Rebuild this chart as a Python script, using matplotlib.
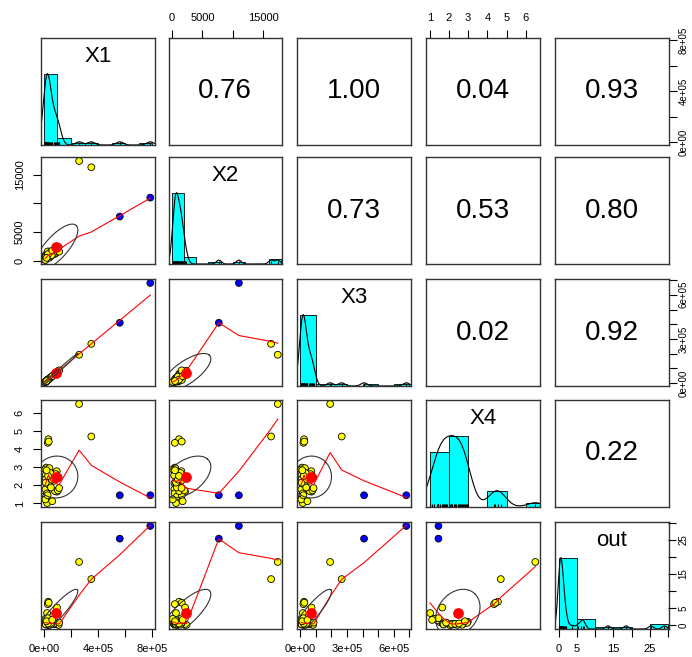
import numpy as np
import matplotlib
matplotlib.use("Agg")
import matplotlib.pyplot as plt

plt.rcParams['font.family'] = ['Liberation Sans', 'DejaVu Sans']

names = ["X1", "X2", "X3", "X4", "out"]

# 33 ordinary rows, then two large yellow ones, then the two blue ones
x1 = np.array([0.24, 0.33, 0.29, 0.36, 0.97, 0.17, 0.10, 0.21, 0.13, 0.15, 0.26,
               0.19, 0.12, 0.23, 0.16, 0.11, 0.28, 0.82, 1.04, 0.95, 0.88, 1.09,
               0.76, 0.34, 0.41, 0.47, 0.52, 0.14, 0.58, 1.13, 0.31, 0.20, 0.62,
               2.60, 3.50, 5.60, 7.85]) * 1e5
x2 = np.array([655, 1160, 470, 1600, 2150, 465, 135, 790, 355, 1055, 405,
               700, 395, 435, 790, 115, 1600, 1175, 2025, 1550, 1375, 2375,
               1525, 850, 540, 1400, 800, 670, 975, 1575, 1145, 490, 1750,
               17400, 16300, 7700, 11000])
x3 = np.array([0.18, 0.26, 0.22, 0.28, 0.74, 0.13, 0.08, 0.16, 0.10, 0.12, 0.20,
               0.15, 0.09, 0.18, 0.12, 0.09, 0.22, 0.63, 0.80, 0.73, 0.68, 0.84,
               0.59, 0.26, 0.32, 0.36, 0.40, 0.11, 0.45, 0.87, 0.24, 0.15, 0.48,
               1.93, 2.67, 4.10, 6.80]) * 1e5
x4 = np.array([1.02, 4.55, 4.35, 4.42, 1.65, 2.98, 2.88, 2.74, 2.55, 2.35, 2.12,
               2.08, 1.78, 1.55, 1.38, 1.22, 1.45, 1.68, 1.72, 2.78, 2.62, 2.45,
               2.25, 2.05, 2.95, 2.68, 1.88, 2.15, 2.32, 1.85, 2.52, 2.83, 1.12,
               6.50, 4.70, 1.45, 1.45])
out = np.array([3.6, 6.9, 6.2, 6.6, 5.2, 1.05, 0.85, 0.7, 0.45, 0.3, 0.2,
                0.35, 0.55, 0.9, 1.5, 1.9, 2.1, 0.4, 0.25, 0.6, 0.35, 0.15,
                0.5, 0.1, 0.75, 0.2, 0.65, 0.3, 0.45, 0.8, 0.55, 1.2, 1.6,
                18.5, 13.5, 25.3, 29.0])
groups = ["yellow"] * 35 + ["blue"] * 2

# correlations printed in the upper panels, read row by row
corr_text = ["0.76", "1.00", "0.04", "0.93",
             "0.73", "0.53", "0.80",
             "0.02", "0.92",
             "0.22"]
hist_step = [1e5, 2000, 1e5, 1, 5]

tick_vals = [np.arange(0, 8.01e5, 2e5), np.arange(0, 15001, 5000),
             np.arange(0, 7.01e5, 1e5), np.arange(1, 7), np.arange(0, 31, 5)]
tick_labs = [["0e+00", "", "4e+05", "", "8e+05"],
             ["0", "5000", "", "15000"],
             ["0e+00", "", "", "3e+05", "", "", "6e+05", ""],
             ["1", "2", "3", "4", "5", "6"],
             ["0", "5", "", "15", "", "25", ""]]

data = [x1, x2, x3, x4, out]


def lowess(x, y, f=2/3, it=3):
    o = np.argsort(x, kind="stable")
    x = np.asarray(x, float)[o]
    y = np.asarray(y, float)[o]
    m = len(x)
    ns = max(min(int(f * m + 1e-7), m), 2)
    rw = np.ones(m)
    ys = np.zeros(m)
    rng = x[-1] - x[0]
    for k in range(it + 1):
        for i in range(m):
            d = np.abs(x - x[i])
            h = np.sort(d)[ns - 1]
            w = np.zeros(m)
            inside = d <= 0.999 * h
            w[inside] = (1 - (d[inside] / h) ** 3) ** 3
            w[d <= 0.001 * h] = 1.0
            w *= rw
            if w.sum() <= 0:
                ys[i] = y[i]
                continue
            w = w / w.sum()
            a = np.sum(w * x)
            c = np.sum(w * (x - a) ** 2)
            if np.sqrt(c) > 0.001 * rng:
                b = (x[i] - a) / c
                w = w * (b * (x - a) + 1)
            ys[i] = np.sum(w * y)
        if k == it:
            break
        res = np.abs(y - ys)
        cmad = 6 * np.median(res)
        if cmad < 1e-7 * res.mean():
            break
        r = res / cmad
        rw = np.where(r < 0.999, (1 - r ** 2) ** 2, 0.0)
        rw[r <= 0.001] = 1.0
    return x, ys


def ellipse(xm, ym, xs, ys, r, seg=51):
    a = np.arange(seg + 1) * 2 * np.pi / seg
    th = np.sign(r) / np.sqrt(2) if abs(r) > 0 else 1 / np.sqrt(2)
    shape = np.diag([np.sqrt(1 + r), np.sqrt(1 - r)]) @ np.array([[th, th], [-th, th]])
    e = np.column_stack([np.cos(a), np.sin(a)]) @ shape
    return e[:, 0] * xs + xm, e[:, 1] * ys + ym


def density(v):
    q75, q25 = np.percentile(v, [75, 25])
    bw = 1.06 * min(v.std(ddof=1), (q75 - q25) / 1.34) * len(v) ** -0.2
    g = np.linspace(v.min() - 3 * bw, v.max() + 3 * bw, 512)
    d = np.exp(-0.5 * ((g[:, None] - v[None, :]) / bw) ** 2).sum(1)
    return g, d / d.max()


def lims(v):
    r = v.max() - v.min()
    return v.min() - 0.04 * r, v.max() + 0.04 * r


W, H = 692, 657
fig = plt.figure(figsize=(W / 100, H / 100), dpi=100)
col_left = [41, 168.5, 297, 426, 555]
row_top = [38, 157, 279, 400, 522]
pw, ph = 113.5, 107

tick_kw = dict(length=5.8, width=0.8, colors="black")
k = 0
axes = {}
for i in range(5):
    for j in range(5):
        ax = fig.add_axes([col_left[j] / W, 1 - (row_top[i] + ph) / H, pw / W, ph / H])
        axes[i, j] = ax
        for s in ax.spines.values():
            s.set_color("#333333")
            s.set_linewidth(1.0)
        ax.set_xticks([])
        ax.set_yticks([])
        ax.set_xlim(lims(data[j]))
        xv, yv = data[j], data[i]
        if i == j:
            ax.set_ylim(0, 1.5)
            step = hist_step[i]
            edges = np.arange(np.floor(xv.min() / step) * step,
                              xv.max() + step, step)
            cnt, edges = np.histogram(xv, bins=edges)
            ax.bar(edges[:-1], cnt / cnt.max(), width=np.diff(edges), align="edge",
                   color="cyan", edgecolor="black", linewidth=0.6)
            g, d = density(xv)
            ax.plot(g, d, color="black", lw=0.8)
            ax.vlines(xv, 0, 0.045, color="black", lw=0.8)
            ax.text(0.5, 0.83, names[i], transform=ax.transAxes, ha="center",
                    va="center", fontsize=16)
        elif i < j:
            ax.set_ylim(lims(yv))
            ax.text(0.5, 0.5, corr_text[k], transform=ax.transAxes, ha="center",
                    va="center", fontsize=20)
            k += 1
        else:
            ax.set_ylim(lims(yv))
            ax.scatter(xv, yv, s=24, c=groups, edgecolors="black", linewidths=0.6,
                       zorder=2)
            lx, ly = lowess(xv, yv)
            ax.plot(lx, ly, color="red", lw=0.8, zorder=3)
            r = np.corrcoef(xv, yv)[0, 1]
            ax.scatter([xv.mean()], [yv.mean()], s=45, color="red", zorder=4)
            ex, ey = ellipse(xv.mean(), yv.mean(), xv.std(ddof=1), yv.std(ddof=1), r)
            ax.plot(ex, ey, color="#333333", lw=0.8, zorder=5)

# outer axes, alternating sides as pairs() does
for j in range(5):
    if j % 2 == 0:
        ax = axes[4, j]
        ax.set_xticks(tick_vals[j])
        ax.set_xticklabels(tick_labs[j])
        ax.tick_params(axis="x", bottom=True, labelbottom=True, pad=5,
                       labelsize=8, **tick_kw)
    else:
        ax = axes[0, j]
        ax.set_xticks(tick_vals[j])
        ax.set_xticklabels(tick_labs[j])
        ax.tick_params(axis="x", top=True, labeltop=True, bottom=False,
                       labelbottom=False, pad=5, labelsize=8, **tick_kw)

for i in range(5):
    if i % 2 == 0:
        ax = axes[i, 4]
        if i == 4:
            ax = ax.twinx()
            ax.set_ylim(lims(data[4]))
            for s in ax.spines.values():
                s.set_visible(False)
        ax.set_yticks(tick_vals[i])
        ax.set_yticklabels(tick_labs[i], rotation=90, va="center")
        ax.tick_params(axis="y", right=True, labelright=True, left=False,
                       labelleft=False, pad=1.5, labelsize=7, **tick_kw)
    else:
        ax = axes[i, 0]
        ax.set_yticks(tick_vals[i])
        ax.set_yticklabels(tick_labs[i], rotation=90, va="center")
        ax.tick_params(axis="y", left=True, labelleft=True, pad=6,
                       labelsize=8, **tick_kw)

fig.savefig("out.png", dpi=100)
